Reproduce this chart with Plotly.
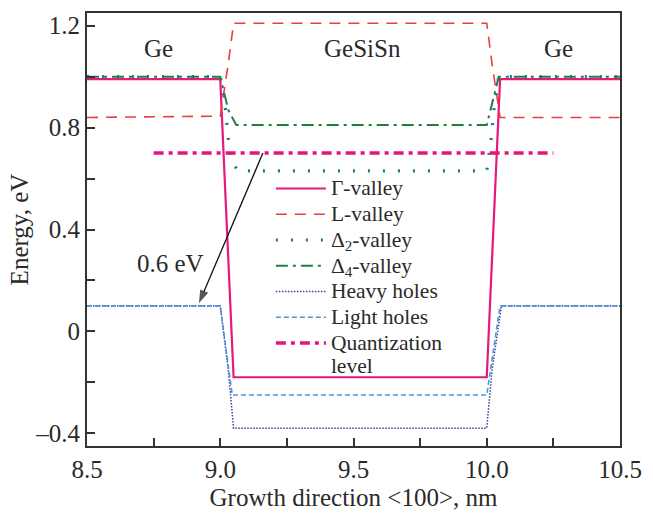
import plotly.graph_objects as go

# ---- data ----
gamma_x = [8.5, 9.0, 9.05, 10.0, 10.05, 10.5]
gamma_y = [0.99, 0.99, -0.18, -0.18, 0.99, 0.99]

l_x = [8.5, 9.0, 9.03, 9.05, 10.0, 10.02, 10.05, 10.5]
l_y = [0.84, 0.845, 1.05, 1.21, 1.21, 1.05, 0.84, 0.84]

d2_x = [8.5, 9.0, 9.017, 9.033, 9.045, 9.067, 10.0, 10.017, 10.03, 10.045, 10.5]
d2_y = [1.0, 1.0, 0.9, 0.725, 0.665, 0.63, 0.63, 0.76, 0.9, 1.0, 1.0]

d4_x = [8.5, 9.0, 9.03, 9.06, 10.0, 10.045, 10.5]
d4_y = [1.0, 1.0, 0.87, 0.81, 0.81, 1.0, 1.0]

hh_x = [8.5, 9.0, 9.03, 9.05, 10.0, 10.02, 10.055, 10.5]
hh_y = [0.1, 0.1, -0.15, -0.38, -0.38, -0.15, 0.1, 0.1]

lh_x = [8.5, 9.0, 9.045, 10.0, 10.05, 10.5]
lh_y = [0.1, 0.1, -0.25, -0.25, 0.1, 0.1]

q_x = [8.75, 10.25]
q_y = [0.7, 0.7]

# 0.6 eV gap arrow (from quantization level down to the hole band edge)
arrow_x = [9.16, 8.92]
arrow_y = [0.7, 0.11]
gap_label = "0.6 eV"
gap_label_x = 8.813
gap_label_y = 0.266

x_tickvals = [8.5, 9.0, 9.5, 10.0, 10.5]
x_ticktext = ["8.5", "9.0", "9.5", "10.0", "10.5"]
y_tickvals = [-0.4, 0.0, 0.4, 0.8, 1.2]
y_ticktext = ["\u20130.4", "0", "0.4", "0.8", "1.2"]

region_labels = ["Ge", "GeSiSn", "Ge"]
region_x = [8.77, 9.535, 10.27]
region_y = [1.11, 1.11, 1.11]

series_names = ["\u0393-valley", "L-valley", "\u0394<sub>2</sub>-valley",
                "\u0394<sub>4</sub>-valley", "Heavy holes", "Light holes",
                "Quantization<br>level"]

FONT = "Liberation Serif, Times New Roman, serif"
TXT = "#2a2a2a"


def big(name, px=21.5):
    parts = name.split("<br>")
    return "<br>".join('<span style="font-size:%spx">%s</span>' % (px, p) for p in parts)


fig = go.Figure()
styles = [
    dict(color="#e6197d", width=2.2),
    dict(color="#e84040", width=1.6, dash="11px,8px"),
    dict(color="#16807f", width=3.2, dash="2px,13px"),
    dict(color="#1e8040", width=2, dash="12px,5px,3px,5px"),
    dict(color="#3a3e9e", width=1.5, dash="1.5px,1.5px"),
    dict(color="#4a97db", width=1.6, dash="5px,3px"),
    dict(color="#e4157a", width=3.5, dash="10px,5px,4px,5px"),
]
data_xy = [(gamma_x, gamma_y), (l_x, l_y), (d2_x, d2_y), (d4_x, d4_y),
           (hh_x, hh_y), (lh_x, lh_y), (q_x, q_y)]
for (xx, yy), nm, st in zip(data_xy, series_names, styles):
    fig.add_trace(go.Scatter(x=xx, y=yy, mode="lines", name=big(nm), line=st))

fig.add_trace(go.Scatter(x=arrow_x, y=arrow_y, mode="lines+markers", showlegend=False,
                         hoverinfo="skip",
                         line=dict(color="#111111", width=1.3),
                         marker=dict(symbol="arrow", size=[0, 14], angleref="previous",
                                     color="#111111", line=dict(width=0))))

for t, xx, yy in zip(region_labels, region_x, region_y):
    fig.add_annotation(x=xx, y=yy, text=t, showarrow=False,
                       font=dict(family=FONT, size=25, color=TXT))

fig.add_annotation(x=gap_label_x, y=gap_label_y, text=gap_label, showarrow=False,
                   font=dict(family=FONT, size=25, color=TXT))

fig.update_layout(
    width=653, height=518,
    margin=dict(l=87, r=25, t=11, b=71),
    paper_bgcolor="white", plot_bgcolor="white",
    font=dict(family=FONT, size=24, color=TXT),
    showlegend=True,
    legend=dict(x=0.345, y=0.636, xanchor="left", yanchor="top",
                bgcolor="rgba(0,0,0,0)", borderwidth=0, valign="top",
                font=dict(family=FONT, size=17.5, color=TXT),
                itemwidth=50, tracegroupgap=0),
    xaxis=dict(range=[8.5, 10.5], tickvals=x_tickvals, ticktext=x_ticktext,
               ticks="inside", ticklen=8, tickwidth=1.5, tickcolor="#333333",
               minor=dict(tickvals=[8.75, 9.25, 9.75, 10.25], ticks="inside",
                          ticklen=8, tickwidth=1.5, tickcolor="#333333"),
               showline=True, linecolor="#333333", linewidth=2, mirror=True,
               showgrid=False, zeroline=False,
               tickfont=dict(family=FONT, size=25, color=TXT),
               title=dict(text="Growth direction &lt;100&gt;, nm",
                          font=dict(family=FONT, size=25, color=TXT), standoff=6)),
    yaxis=dict(range=[-0.45, 1.25], tickvals=y_tickvals, ticktext=y_ticktext,
               ticks="inside", ticklen=8, tickwidth=1.5, tickcolor="#333333",
               minor=dict(tickvals=[-0.2, 0.2, 0.6, 1.0], ticks="inside",
                          ticklen=8, tickwidth=1.5, tickcolor="#333333"),
               showline=True, linecolor="#333333", linewidth=2, mirror=True,
               showgrid=False, zeroline=False,
               tickfont=dict(family=FONT, size=25, color=TXT),
               title=dict(text="Energy, eV",
                          font=dict(family=FONT, size=25, color=TXT), standoff=0)),
)

fig.write_html("out.html")
